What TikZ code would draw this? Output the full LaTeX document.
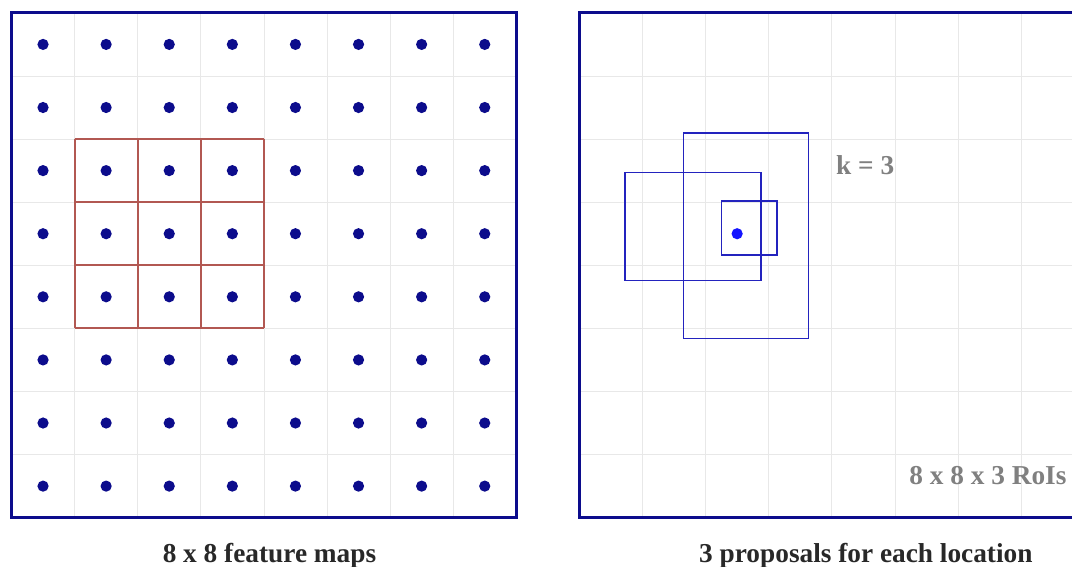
\documentclass[tikz,border=0pt]{standalone}
\usepackage{fontspec}
\setmainfont{Liberation Serif}
\usepackage{xcolor}
\definecolor{mapblue}{RGB}{12,12,140}
\definecolor{gridgray}{RGB}{232,232,232}
\definecolor{cellred}{RGB}{178,88,82}
\definecolor{propblue}{RGB}{35,35,190}
\definecolor{locblue}{RGB}{20,20,255}
\definecolor{notegray}{RGB}{128,128,128}
\definecolor{capgray}{RGB}{40,40,40}

\begin{document}
\begin{tikzpicture}[
    x=1.575cm, y=1.575cm,
    every node/.style={inner sep=0pt},
    dot/.style={circle, fill=mapblue, minimum size=0.28cm},
    gridline/.style={draw=gridgray, line width=0.5pt, step=1.575cm},
    mapframe/.style={draw=mapblue, line width=2.1pt},
    cellbox/.style={draw=cellred, line width=1.4pt, step=1.575cm},
    proposal/.style={draw=propblue, line width=1.1pt},
    notetext/.style={font=\fontsize{19.4}{22}\selectfont\bfseries, text=notegray, anchor=base},
    captext/.style={font=\fontsize{19.4}{22}\selectfont\bfseries, text=capgray, anchor=base}
]

\useasboundingbox (-0.182,-0.781) rectangle (16.807,8.204);

\draw[gridline] (0,0) grid (8,8);
\draw[gridline] (9,0) grid (17,8);

\draw[cellbox] (1,3) grid (4,6);

\foreach \i in {0,...,7}
  \foreach \j in {0,...,7}
    \node[dot] (d\i\j) at (\i+0.5,\j+0.5) {};

\draw[mapframe] (0,0) rectangle (8,8);
\draw[mapframe] (9,0) rectangle (17.3,8);

\draw[proposal] (10.647,2.843) rectangle (12.628,6.092);
\draw[proposal] (9.723,3.762) rectangle (11.878,5.467);
\draw[proposal] (11.249,4.163) rectangle (12.132,5.019);
\node[dot, fill=locblue] (loc) at (11.5,4.5) {};

\node[notetext] (k) at (13.53,5.431) {k = 3};
\node[notetext] (rois) at (15.475,0.518) {8 x 8 x 3 RoIs};

\node[captext] (mapcap) at (4.089,-0.718) {8 x 8 feature maps};
\node[captext] (propcap) at (13.54,-0.718) {3 proposals for each location};

\end{tikzpicture}
\end{document}
